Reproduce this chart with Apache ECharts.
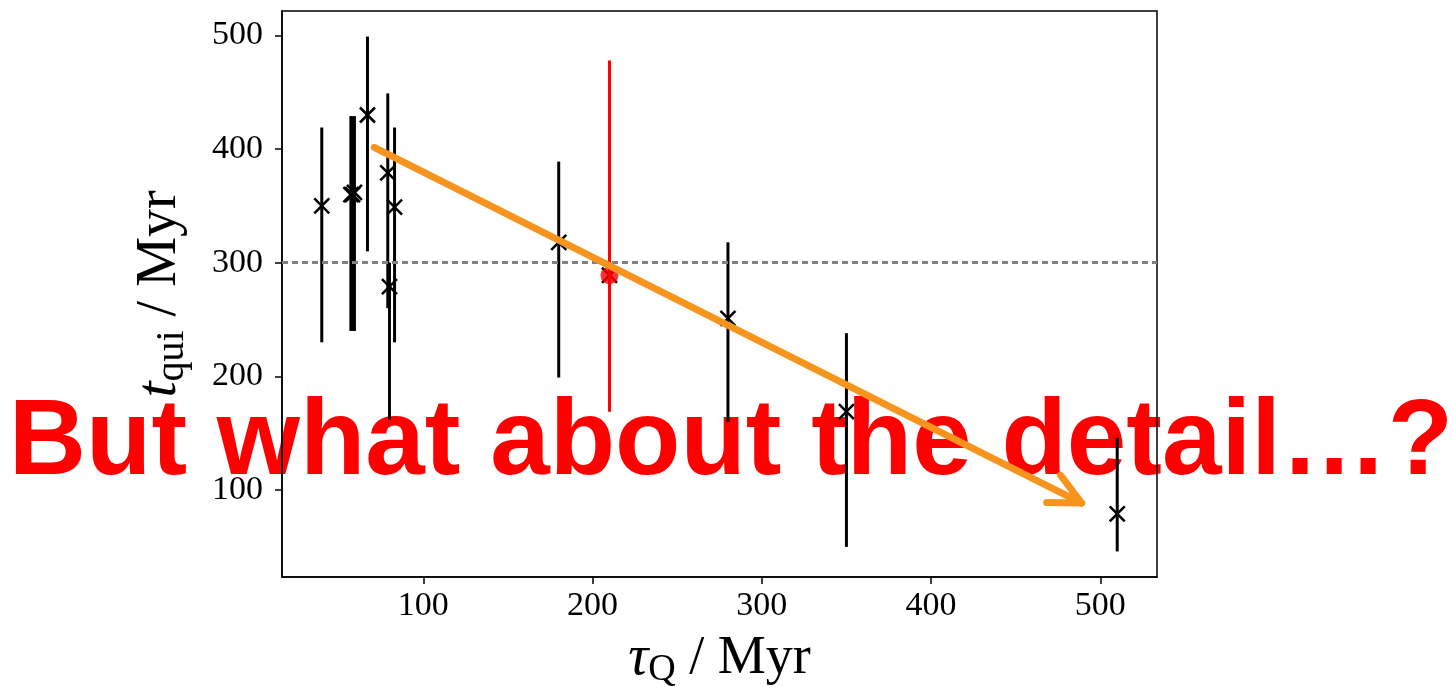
<!DOCTYPE html>
<html><head><meta charset="utf-8">
<script src="https://cdn.jsdelivr.net/npm/echarts@6/dist/echarts.min.js"></script>
<style>html,body{margin:0;padding:0;background:#fff}#c{width:1452px;height:687px}</style>
</head><body><div id="c"></div>
<script>
// Black sample points: tau_Q (Myr), t_qui (Myr), lower/upper error ends
const tauQ  = [40, 57.2, 58.2, 59.3, 67, 79, 80, 83, 180, 280, 350, 510];
const tQui  = [350, 360, 360, 362, 430, 379, 279, 349, 318, 251, 169, 79];
const tLow  = [230, 240, 240, 240, 310, 260, 162, 230, 199, 160, 50, 46];
const tHigh = [419, 429, 429, 429, 499, 449, 300, 419, 389, 318, 238, 146];
// Highlighted (red) point
const redTau  = [210];
const redT    = [289];
const redLow  = [169];
const redHigh = [478];
// Reference level
const refLevel = 300;
// Trend arrow: start and end in data coordinates
const arrowStart = [71, 401.5];
const arrowEnd   = [489, 88.6];
// Axis ticks
const xTicks = [100, 200, 300, 400, 500];
const yTicks = [100, 200, 300, 400, 500];
const xRange = [16.5, 533.5];
const yRange = [23.5, 521.5];
const headline = 'But what about the detail…?';

const serif = '"Liberation Serif", "DejaVu Serif", serif';
const errData = tauQ.map((t, i) => [t, tLow[i], tHigh[i]]);
const ptData = tauQ.map((t, i) => [t, tQui[i]]);
const redErr = redTau.map((t, i) => [t, redLow[i], redHigh[i]]);
const redPt = redTau.map((t, i) => [t, redT[i]]);

function errItem(color) {
  return function (params, api) {
    const a = api.coord([api.value(0), api.value(1)]);
    const b = api.coord([api.value(0), api.value(2)]);
    return {type: 'line', shape: {x1: a[0], y1: a[1], x2: b[0], y2: b[1]},
      style: {stroke: color, lineWidth: 3}};
  };
}
function crossItem(params, api) {
  const p = api.coord([api.value(0), api.value(1)]);
  const s = 7.5;
  return {type: 'group', children: [
    {type: 'line', shape: {x1: p[0]-s, y1: p[1]-s, x2: p[0]+s, y2: p[1]+s}, style: {stroke: '#000', lineWidth: 2.5}},
    {type: 'line', shape: {x1: p[0]-s, y1: p[1]+s, x2: p[0]+s, y2: p[1]-s}, style: {stroke: '#000', lineWidth: 2.5}}
  ]};
}
function arrowItem(params, api) {
  const a = api.coord([api.value(0), api.value(1)]);
  const b = api.coord([api.value(2), api.value(3)]);
  const ang = Math.atan2(a[1]-b[1], a[0]-b[0]);
  const L = 35, d = 26 * Math.PI / 180;
  const h1 = [b[0] + L*Math.cos(ang - d), b[1] + L*Math.sin(ang - d)];
  const h2 = [b[0] + L*Math.cos(ang + d), b[1] + L*Math.sin(ang + d)];
  const st = {stroke: '#F7941D', lineWidth: 7, lineCap: 'round', lineJoin: 'round', fill: null};
  return {type: 'group', children: [
    {type: 'line', shape: {x1: a[0], y1: a[1], x2: b[0], y2: b[1]}, style: st},
    {type: 'polyline', shape: {points: [h1, b, h2]}, style: st}
  ]};
}

const chart = echarts.init(document.getElementById('c'));
chart.setOption({
  animation: false,
  backgroundColor: '#fff',
  grid: {left: 282, right: 295, top: 11, bottom: 110, containLabel: false, outerBoundsMode: 'none',
    show: true, borderColor: '#000', borderWidth: 1.5, backgroundColor: 'transparent'},
  xAxis: {
    type: 'value', min: xRange[0], max: xRange[1],
    name: '{it|τ}{sub|Q}{rm| / Myr}', nameLocation: 'middle', nameGap: 52,
    nameTextStyle: {rich: {
      it: {fontFamily: serif, fontStyle: 'italic', fontSize: 56, lineHeight: 60, verticalAlign: 'middle', color: '#000'},
      sub: {fontFamily: serif, fontSize: 38, lineHeight: 60, verticalAlign: 'bottom', color: '#000'},
      rm: {fontFamily: serif, fontSize: 54, lineHeight: 60, verticalAlign: 'middle', color: '#000'}
    }},
    axisLine: {show: true, lineStyle: {color: '#000', width: 1.5}},
    axisTick: {show: true, inside: false, length: 7, lineStyle: {color: '#000', width: 1.5}, customValues: xTicks},
    axisLabel: {fontFamily: serif, fontSize: 34, color: '#000', margin: 12, customValues: xTicks},
    splitLine: {show: false}
  },
  yAxis: {
    type: 'value', min: yRange[0], max: yRange[1],
    name: '{it|t}{sub|qui}{rm| / Myr}', nameLocation: 'middle', nameGap: 90,
    nameTextStyle: {rich: {
      it: {fontFamily: serif, fontStyle: 'italic', fontSize: 58, lineHeight: 64, verticalAlign: 'middle', color: '#000'},
      sub: {fontFamily: serif, fontSize: 40, lineHeight: 64, verticalAlign: 'bottom', color: '#000'},
      rm: {fontFamily: serif, fontSize: 56, lineHeight: 64, verticalAlign: 'middle', color: '#000'}
    }},
    axisLine: {show: true, lineStyle: {color: '#000', width: 1.5}},
    axisTick: {show: true, inside: false, length: 7, lineStyle: {color: '#000', width: 1.5}, customValues: yTicks},
    axisLabel: {fontFamily: serif, fontSize: 34, color: '#000', margin: 19, customValues: yTicks},
    splitLine: {show: false}
  },
  graphic: [{
    type: 'text', z: -10, x: 731, y: 444,
    style: {text: headline, fill: '#FF0000', fontFamily: '"Liberation Sans", Arial, sans-serif',
      fontWeight: 'bold', fontSize: 107, textAlign: 'center', textVerticalAlign: 'middle'}
  }],
  series: [
    {type: 'custom', z: 2, renderItem: errItem('#000'), data: errData, encode: {x: 0, y: [1, 2]}, silent: true},
    {type: 'custom', z: 3, renderItem: crossItem, data: ptData.concat(redPt), encode: {x: 0, y: 1}, silent: true},
    {type: 'custom', z: 4, renderItem: errItem('#FF0000'), data: redErr, encode: {x: 0, y: [1, 2]}, silent: true},
    {type: 'scatter', z: 5, data: redPt, symbol: 'circle', symbolSize: 18, itemStyle: {color: '#FF0000'}, silent: true},
    {type: 'line', z: 6, data: [], silent: true,
      markLine: {silent: true, symbol: 'none', label: {show: false},
        lineStyle: {color: '#808080', width: 3, type: [6, 4]}, data: [{yAxis: refLevel}]}},
    {type: 'custom', z: 7, renderItem: arrowItem, data: [[arrowStart[0], arrowStart[1], arrowEnd[0], arrowEnd[1]]],
      encode: {x: [0, 2], y: [1, 3]}, silent: true}
  ]
});
</script></body></html>
